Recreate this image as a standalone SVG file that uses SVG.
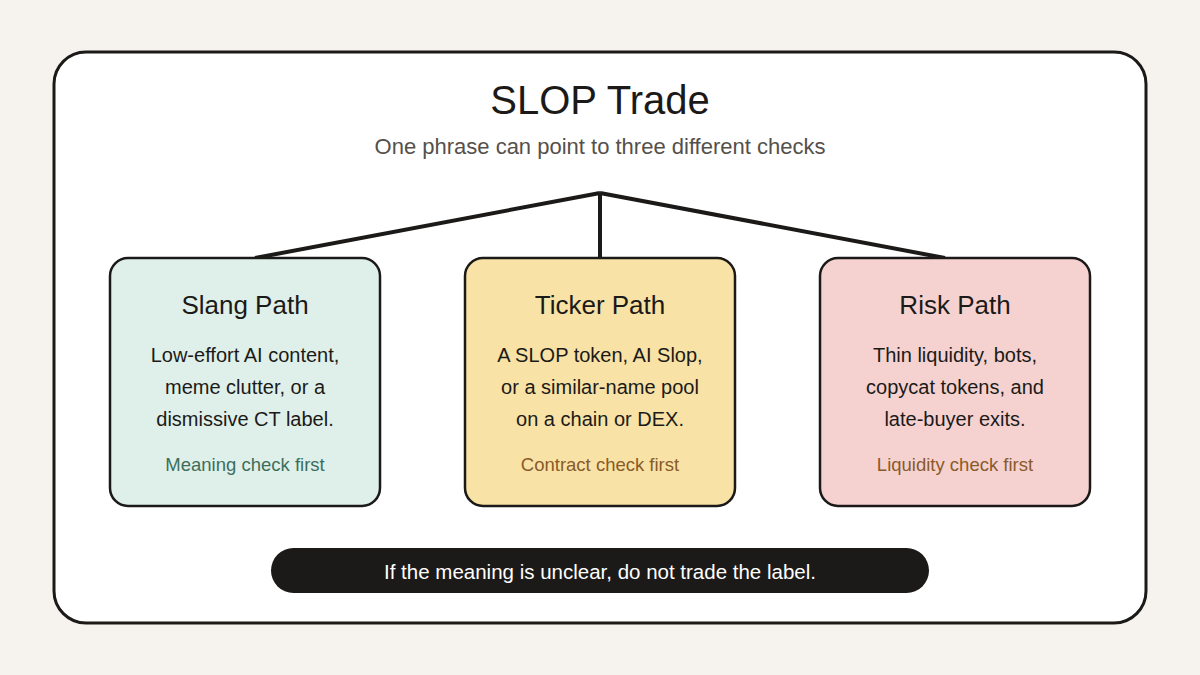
<svg xmlns="http://www.w3.org/2000/svg" width="1200" height="675" viewBox="0 0 1200 675">
<style>
text{font-family:"Liberation Sans",Arial,sans-serif;text-anchor:middle}
.box{stroke:#1c1a18;stroke-width:2.5}
.t{font-size:26px;fill:#1c1a18}
.b{font-size:20px;fill:#1c1a18}
.c{font-size:18.5px}
.conn{stroke:#1c1a18;stroke-width:4;fill:none}
</style>
<rect width="1200" height="675" fill="#f6f3ee"/>
<rect x="54" y="52" width="1092" height="571" rx="32" fill="#ffffff" stroke="#1c1a18" stroke-width="3"/>
<text x="600" y="114" font-size="40" fill="#1c1a18">SLOP Trade</text>
<text x="600" y="154" font-size="22" fill="#55504a">One phrase can point to three different checks</text>
<g id="connectors">
<path class="conn" d="M600 193 L255 258 M600 193 L600 258 M600 193 L945 258"/>
</g>
<g id="slang">
<rect class="box" x="110" y="258" width="270" height="248" rx="18" fill="#dff0ea"/>
<text class="t" x="245" y="314">Slang Path</text>
<text class="b" x="245" y="362">Low-effort AI content,</text>
<text class="b" x="245" y="394">meme clutter, or a</text>
<text class="b" x="245" y="426">dismissive CT label.</text>
<text class="c" x="245" y="471" fill="#3e6e5a">Meaning check first</text>
</g>
<g id="ticker">
<rect class="box" x="465" y="258" width="270" height="248" rx="18" fill="#f8e2a5"/>
<text class="t" x="600" y="314">Ticker Path</text>
<text class="b" x="600" y="362">A SLOP token, AI Slop,</text>
<text class="b" x="600" y="394">or a similar-name pool</text>
<text class="b" x="600" y="426">on a chain or DEX.</text>
<text class="c" x="600" y="471" fill="#8a5a2a">Contract check first</text>
</g>
<g id="risk">
<rect class="box" x="820" y="258" width="270" height="248" rx="18" fill="#f5d2d0"/>
<text class="t" x="955" y="314">Risk Path</text>
<text class="b" x="955" y="362">Thin liquidity, bots,</text>
<text class="b" x="955" y="394">copycat tokens, and</text>
<text class="b" x="955" y="426">late-buyer exits.</text>
<text class="c" x="955" y="471" fill="#8a5a2a">Liquidity check first</text>
</g>
<g id="note">
<rect x="271" y="548" width="658" height="45" rx="22.5" fill="#1c1a18"/>
<text x="600" y="578.5" font-size="20.5" fill="#ffffff">If the meaning is unclear, do not trade the label.</text>
</g>
</svg>
